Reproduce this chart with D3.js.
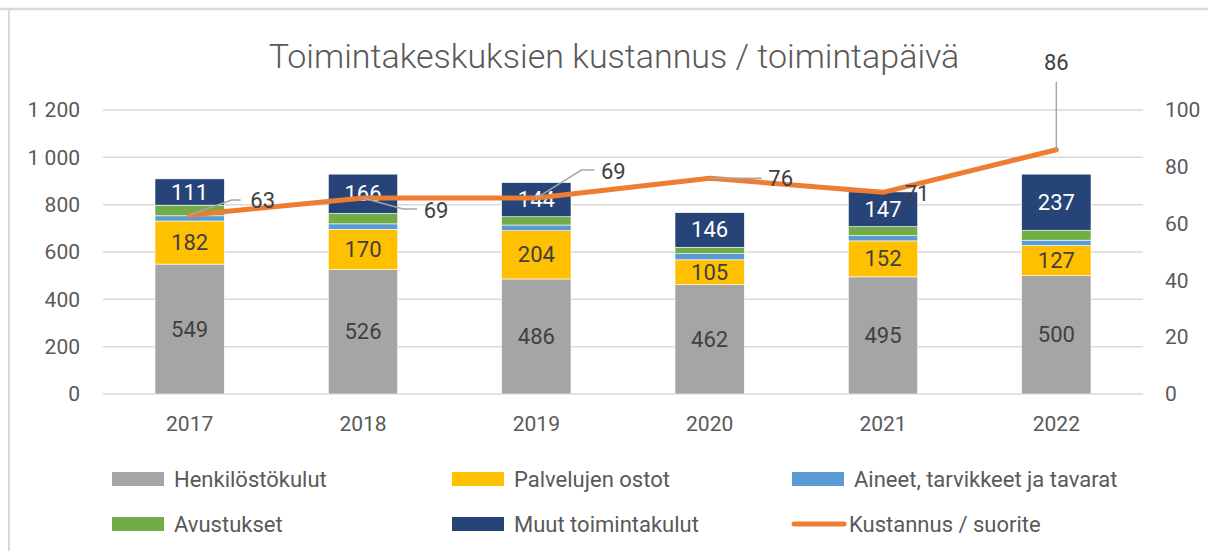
<!DOCTYPE html>
<html>
<head>
<meta charset="utf-8">
<script src="https://cdn.jsdelivr.net/npm/d3@7"></script>
<style>
  body { margin: 0; background: #fff; }
  svg { display: block; font-family: Roboto, "Open Sans", sans-serif; }
</style>
</head>
<body>
<svg id="chart" width="1208" height="551"></svg>
<script>
// values
const years = ['2017', '2018', '2019', '2020', '2021', '2022'];
const henkilosto = [549, 526, 486, 462, 495, 500];
const palvelut = [182, 170, 204, 105, 152, 127];
const aineet = [22, 23, 24, 26, 22, 23];
const avustukset = [45, 44, 35, 27, 38, 42];
const muut = [111, 166, 144, 146, 147, 237];
const kustannus = [63, 69, 69, 76, 71, 86];
const leftTicks = [0, 200, 400, 600, 800, 1000, 1200];
const rightTicks = [0, 20, 40, 60, 80, 100];

const series = [
  { name: 'Henkilöstökulut', values: henkilosto, color: '#A5A5A5', label: true, labelColor: '#404040' },
  { name: 'Palvelujen ostot', values: palvelut, color: '#FFC000', label: true, labelColor: '#404040' },
  { name: 'Aineet, tarvikkeet ja tavarat', values: aineet, color: '#5B9BD5', label: false },
  { name: 'Avustukset', values: avustukset, color: '#70AD47', label: false },
  { name: 'Muut toimintakulut', values: muut, color: '#264478', label: true, labelColor: '#ffffff' }
];

// where each line label sits relative to its point (leader path, then text)
const lineLabelLayout = [
  { path: [[42, -15], [51, -15]], text: [73, -15] },
  { path: [[40, 11], [54, 11]], text: [73, 12] },
  { path: [[45, -28], [58, -28]], text: [77, -27] },
  { path: [[52, 0]], text: [71, 0] },
  { path: [], text: [34, 1] },
  { path: [[0, -68]], text: [0, -87] }
];

const svg = d3.select('#chart');

// frame
svg.append('line').attr('x1', 0).attr('x2', 1208).attr('y1', 9).attr('y2', 9)
  .attr('stroke', '#d9d9d9').attr('stroke-width', 2.5);
svg.append('line').attr('x1', 9).attr('x2', 9).attr('y1', 9).attr('y2', 551)
  .attr('stroke', '#d9d9d9').attr('stroke-width', 2);

const x = d3.scaleBand().domain(years).range([103, 1143]).paddingInner(0.6).paddingOuter(0.3);
const y = d3.scaleLinear().domain([0, 1200]).range([394, 110]);
const y2 = d3.scaleLinear().domain([0, 100]).range([394, 110]);

// gridlines
svg.append('g').selectAll('line').data(leftTicks).join('line')
  .attr('x1', 103).attr('x2', 1143)
  .attr('y1', d => y(d)).attr('y2', d => y(d))
  .attr('stroke', '#d9d9d9').attr('stroke-width', 1.5);

// axes
const fmt = d => d3.format(',')(d).replace(',', ' ');
const leftAxis = svg.append('g').attr('transform', 'translate(103,0)')
  .call(d3.axisLeft(y).tickValues(leftTicks).tickFormat(fmt).tickSize(0).tickPadding(23));
const rightAxis = svg.append('g').attr('transform', 'translate(1143,0)')
  .call(d3.axisRight(y2).tickValues(rightTicks).tickSize(0).tickPadding(22));
const bottomAxis = svg.append('g').attr('transform', 'translate(0,394)')
  .call(d3.axisBottom(x).tickSize(0).tickPadding(22));
[leftAxis, rightAxis, bottomAxis].forEach(a => {
  a.select('.domain').remove();
  a.selectAll('text').attr('fill', '#595959').style('font-size', '21px').style('font-family', 'Roboto');
});

// stacked bars
const rows = years.map((yr, i) => {
  const r = { year: yr };
  series.forEach(s => { r[s.name] = s.values[i]; });
  return r;
});
const stack = d3.stack().keys(series.map(s => s.name))(rows);

const layers = svg.append('g').selectAll('g').data(stack).join('g')
  .attr('fill', (d, i) => series[i].color);
layers.selectAll('rect').data(d => d).join('rect')
  .attr('x', d => x(d.data.year))
  .attr('width', x.bandwidth())
  .attr('y', d => y(d[1]))
  .attr('height', d => y(d[0]) - y(d[1]))
  .attr('stroke', '#ffffff').attr('stroke-width', 0.6);

// segment labels
stack.forEach((layer, i) => {
  const s = series[i];
  if (!s.label) return;
  svg.append('g').selectAll('text').data(layer).join('text')
    .attr('x', d => x(d.data.year) + x.bandwidth() / 2)
    .attr('y', d => (y(d[0]) + y(d[1])) / 2)
    .attr('text-anchor', 'middle')
    .attr('dominant-baseline', 'central')
    .attr('fill', s.labelColor)
    .style('font-size', '22px')
    .text(d => d[1] - d[0]);
});

// line series
const pts = kustannus.map((v, i) => [x(years[i]) + x.bandwidth() / 2, y2(v)]);
svg.append('path')
  .datum(pts)
  .attr('d', d3.line())
  .attr('fill', 'none')
  .attr('stroke', '#ED7D31')
  .attr('stroke-width', 5)
  .attr('stroke-linejoin', 'round')
  .attr('stroke-linecap', 'round');

// line labels with leader lines
pts.forEach((p, i) => {
  const lay = lineLabelLayout[i];
  if (lay.path.length) {
    const line = [p].concat(lay.path.map(o => [p[0] + o[0], p[1] + o[1]]));
    svg.append('path').attr('d', d3.line()(line))
      .attr('fill', 'none').attr('stroke', '#a6a6a6').attr('stroke-width', 1.5);
  }
  svg.append('text')
    .attr('x', p[0] + lay.text[0])
    .attr('y', p[1] + lay.text[1])
    .attr('text-anchor', 'middle')
    .attr('dominant-baseline', 'central')
    .attr('fill', '#404040')
    .style('font-size', '22px')
    .text(kustannus[i]);
});

// title
svg.append('text')
  .attr('x', 614).attr('y', 68)
  .attr('text-anchor', 'middle')
  .attr('fill', '#595959')
  .style('font-size', '34px')
  .style('font-weight', 300)
  .text('Toimintakeskuksien kustannus / toimintapäivä');

// legend
const legendItems = series.map(s => ({ name: s.name, color: s.color, type: 'rect' }))
  .concat([{ name: 'Kustannus / suorite', color: '#ED7D31', type: 'line' }]);
const colX = [112, 452, 792];
const rowY = [479, 524];
const legend = svg.append('g').selectAll('g').data(legendItems).join('g')
  .attr('transform', (d, i) => `translate(${colX[i % 3]},${rowY[Math.floor(i / 3)]})`);
legend.filter(d => d.type === 'rect').append('rect')
  .attr('x', 0).attr('y', -7).attr('width', 52).attr('height', 14)
  .attr('fill', d => d.color);
legend.filter(d => d.type === 'line').append('line')
  .attr('x1', 2).attr('x2', 52).attr('y1', 0).attr('y2', 0)
  .attr('stroke', d => d.color).attr('stroke-width', 5).attr('stroke-linecap', 'round');
legend.append('text')
  .attr('x', d => d.type === 'line' ? 57 : 62)
  .attr('y', 0)
  .attr('dominant-baseline', 'central')
  .attr('fill', '#595959')
  .style('font-size', '22px')
  .text(d => d.name);
</script>
</body>
</html>
